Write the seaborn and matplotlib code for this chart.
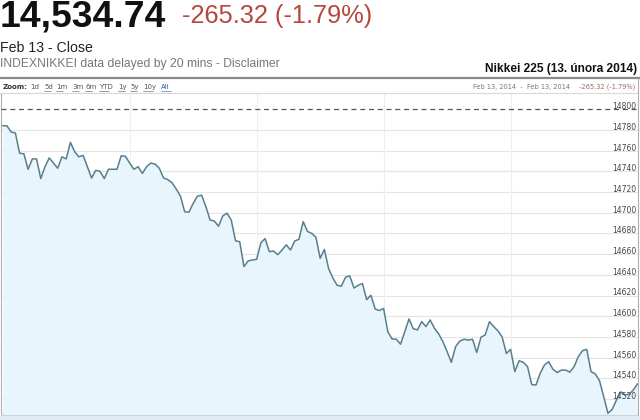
import matplotlib
matplotlib.use("Agg")
import matplotlib.pyplot as plt
import seaborn as sns
import numpy as np
import pandas as pd
from matplotlib.patches import Rectangle
from matplotlib.lines import Line2D

# ─── Data: Nikkei 225 intraday, 13 Feb 2014 ──────────────────────────────────
prices = [
    14784, 14784, 14778, 14777, 14757.5, 14757, 14742, 14752, 14752, 14733,
    14744.5, 14753, 14748, 14743, 14754, 14752, 14768, 14759, 14754, 14755.5,
    14744.5, 14733.6, 14741, 14740, 14733, 14742, 14742, 14742, 14755, 14754.6,
    14748, 14742, 14744.5, 14738, 14744.5, 14748, 14747, 14743, 14733.6, 14732,
    14729, 14723, 14716, 14701, 14700.5, 14709, 14716, 14717, 14706, 14693,
    14692, 14687, 14697, 14699.5, 14693, 14673, 14672, 14648, 14653.5, 14654.4,
    14655, 14671, 14675, 14662.4, 14663, 14659.5, 14664, 14669, 14664, 14672.7,
    14674.4, 14691.4, 14682, 14680, 14676.5, 14656, 14664.5, 14646, 14637, 14630,
    14629, 14637.7, 14639, 14627.3, 14630, 14631.5, 14616, 14620.3, 14607, 14605.5,
    14607.5, 14585, 14578, 14577.8, 14573, 14585, 14597.4, 14588, 14586.8, 14594.8,
    14590, 14596.4, 14588.4, 14583, 14575.5, 14565.8, 14555.5, 14570.6, 14576, 14577.8,
    14577, 14577.8, 14565, 14579.7, 14582, 14594.8, 14590, 14586, 14580, 14564,
    14568, 14546.5, 14557, 14555.5, 14551.3, 14534, 14533.6, 14545, 14553, 14556,
    14548.8, 14545.6, 14548, 14548, 14546, 14551.3, 14561, 14566.8, 14568, 14546.5,
    14544.3, 14537.8, 14522.3, 14506.3, 14510, 14519, 14527, 14524, 14524.6, 14528.8,
    14534.74,
]
prev_close = 14800.06
y_ticks = [14520, 14540, 14560, 14580, 14600, 14620, 14640, 14660, 14680,
           14700, 14720, 14740, 14760, 14780, 14800]
x_grid = [30, 60, 90, 120]

last_price = "14,534.74"
change_text = "-265.32 (-1.79%)"
close_text = "Feb 13 - Close"
note_text = "INDEXNIKKEI data delayed by 20 mins - Disclaimer"
chart_title = "Nikkei 225 (13. února 2014)"
zoom_links = ["1d", "5d", "1m", "3m", "6m", "YTD", "1y", "5y", "10y", "All"]
range_text = "Feb 13, 2014  -  Feb 13, 2014"

df = pd.DataFrame({"t": np.arange(len(prices)), "price": prices})

# ─── Style ───────────────────────────────────────────────────────────────────
sns.set_style("white")
plt.rcParams["font.family"] = ["Liberation Sans", "DejaVu Sans"]

W, H = 640, 420
fig = plt.figure(figsize=(W / 100, H / 100), dpi=100)

def fx(px):
    return px / W

def fy(py):
    return 1 - py / H

# ─── Header texts ────────────────────────────────────────────────────────────
fig.text(fx(0), fy(27), last_price, fontsize=26.8, fontweight="bold",
         color="#111111", va="baseline", ha="left")
fig.text(fx(182), fy(22.5), change_text, fontsize=18.3, color="#b5473d",
         va="baseline", ha="left")
fig.text(fx(0), fy(51.5), close_text, fontsize=10.2, color="#222222",
         va="baseline", ha="left")
fig.text(fx(0), fy(67), note_text, fontsize=8.7, color="#777777",
         va="baseline", ha="left")
fig.text(fx(637), fy(72), chart_title, fontsize=8.6, fontweight="bold",
         color="#111111", va="baseline", ha="right")

# ─── Zoom bar ────────────────────────────────────────────────────────────────
fig.add_artist(Line2D([0, 1], [fy(77.5), fy(77.5)], color="#8a8a8a", lw=1.6))
fig.add_artist(Line2D([0, fx(638)], [fy(93), fy(93)], color="#d8d8d8", lw=0.8))
fig.add_artist(Line2D([fx(638), fx(638)], [fy(77.5), fy(415)], color="#b0b0b0", lw=0.8))
fig.text(fx(3), fy(87), "Zoom:", fontsize=5, fontweight="bold",
         family="DejaVu Sans", color="#333333", va="center", ha="left")
link_x = [30, 44, 56, 72, 85, 99, 118, 130, 143, 161]
for lx, lab in zip(link_x, zoom_links):
    col = "#3355aa" if lab == "All" else "#555555"
    fig.text(fx(lx), fy(87), lab, fontsize=5, family="DejaVu Sans",
             color=col, va="center", ha="left")
    if lab != "1d":
        fig.add_artist(Line2D([fx(lx), fx(lx + 2.7 * len(lab) + 2)],
                              [fy(90.5), fy(90.5)], color=col, lw=0.4))
fig.text(fx(570), fy(87), range_text, fontsize=4.8, family="DejaVu Sans",
         color="#777777", va="center", ha="right")
fig.text(fx(635), fy(87), change_text, fontsize=4.8, family="DejaVu Sans",
         color="#9a6a60", va="center", ha="right")

# ─── Chart ───────────────────────────────────────────────────────────────────
ax = fig.add_axes([fx(1), fy(415), fx(637), (415 - 93) / H])
ax.set_xlim(-0.4, len(prices) - 0.9)
ax.set_ylim(14504.6, 14815.7)

for v in y_ticks[:-1]:
    ax.axhline(v, color="#e4e4e4", lw=0.8, zorder=1)
for xg in x_grid:
    ax.axvline(xg, color="#eeeeee", lw=0.8, zorder=1)

ax.fill_between(df["t"], df["price"], 14400, color="#e8f5fc", zorder=2, lw=0)
sns.lineplot(data=df, x="t", y="price", color="#587f8c", lw=1.1, ax=ax, zorder=3)
ax.axhline(prev_close, color="#555555", lw=0.9, ls=(0, (4, 3)), zorder=4)

for v in y_ticks:
    ax.text(0.997, v + 2.5, str(v), transform=ax.get_yaxis_transform(),
            fontsize=5.5, family="DejaVu Sans", color="#444444",
            ha="right", va="center", zorder=5)

ax.set_xticks([0] + x_grid)
ax.set_xticklabels([])
ax.tick_params(axis="x", direction="in", length=3, width=0.6, color="#888888",
               bottom=True, pad=0)
ax.set_yticks([])
ax.set_xlabel("")
ax.set_ylabel("")
for side in ["top", "right"]:
    ax.spines[side].set_visible(False)
ax.spines["left"].set_color("#b0b0b0")
ax.spines["left"].set_linewidth(0.8)
ax.spines["bottom"].set_color("#c8d4dc")
ax.spines["bottom"].set_linewidth(0.8)

# navigator strip at the bottom edge
fig.add_artist(Rectangle((0, 0), 1, fy(415.5), color="#dfeaf1", lw=0))

fig.savefig("out.png", dpi=100)
